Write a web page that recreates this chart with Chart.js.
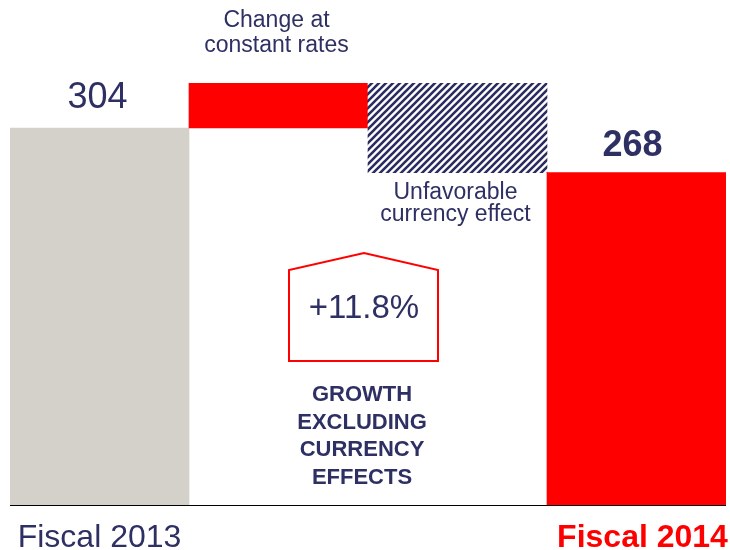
<!DOCTYPE html>
<html>
<head>
<meta charset="utf-8">
<script src="https://cdn.jsdelivr.net/npm/chart.js@4/dist/chart.umd.min.js"></script>
<style>
  html, body { margin: 0; padding: 0; background: #fff; }
  #wrap { position: relative; width: 730px; height: 550px; }
</style>
</head>
<body>
<div id="wrap"><canvas id="bridge"></canvas></div>
<script>
// Sales bridge, fiscal 2013 -> fiscal 2014
var steps = ['Fiscal 2013', 'Change at constant rates', 'Unfavorable currency effect', 'Fiscal 2014'];
var startValue = 304;
var changeAtConstantRates = 36;
var currencyEffect = -72;
var endValue = 268;

var NAVY = '#2e3063';
var RED = '#ff0000';
var GREY = '#d4d1cb';
var FONT = "'Liberation Sans', Arial, sans-serif";

// floating bars: [from, to]
var afterChange = startValue + changeAtConstantRates;
var floating = [
    [0, startValue],
    [startValue, afterChange],
    [afterChange, afterChange + currencyEffect],
    [0, endValue]
];

// diagonal navy hatch for the currency step
function hatch() {
    var s = 7;
    var c = document.createElement('canvas');
    c.width = s; c.height = s;
    var g = c.getContext('2d');
    g.fillStyle = '#fff';
    g.fillRect(0, 0, s, s);
    g.strokeStyle = '#2b2d62';
    g.lineWidth = 2.6;
    g.beginPath();
    g.moveTo(0, s); g.lineTo(s, 0);
    g.moveTo(-s / 2, s / 2); g.lineTo(s / 2, -s / 2);
    g.moveTo(s / 2, s * 1.5); g.lineTo(s * 1.5, s / 2);
    g.stroke();
    return g.createPattern(c, 'repeat');
}

var pct = changeAtConstantRates / startValue * 100;
var growthLabel = '+' + pct.toFixed(1) + '%';

var labelsPlugin = {
    id: 'bridgeLabels',
    afterDatasetsDraw: function (chart) {
        var ctx = chart.ctx;
        var y = chart.scales.y;
        var area = chart.chartArea;
        var bars = chart.getDatasetMeta(0).data;
        ctx.save();
        ctx.textAlign = 'center';
        ctx.textBaseline = 'alphabetic';

        // baseline
        ctx.strokeStyle = '#000';
        ctx.lineWidth = 1;
        ctx.beginPath();
        ctx.moveTo(area.left, Math.round(y.getPixelForValue(0)) + 0.5);
        ctx.lineTo(area.right, Math.round(y.getPixelForValue(0)) + 0.5);
        ctx.stroke();

        ctx.fillStyle = NAVY;
        ctx.font = '36px ' + FONT;
        ctx.fillText(String(startValue), bars[0].x - 2, y.getPixelForValue(startValue) - 20);

        ctx.font = 'bold 36px ' + FONT;
        ctx.fillText(String(endValue), bars[3].x - 4, y.getPixelForValue(endValue) - 17);

        ctx.font = '23px ' + FONT;
        var topChange = y.getPixelForValue(afterChange);
        ctx.fillText('Change at', bars[1].x - 2, topChange - 56);
        ctx.fillText('constant rates', bars[1].x - 2, topChange - 31);

        var bottomCurrency = y.getPixelForValue(afterChange + currencyEffect);
        ctx.fillText('Unfavorable', bars[2].x - 2, bottomCurrency + 26);
        ctx.fillText('currency effect', bars[2].x - 2, bottomCurrency + 48);

        // growth call-out between the two step bars
        var cx = (bars[1].x + bars[2].x) / 2 - 4;
        ctx.strokeStyle = RED;
        ctx.lineWidth = 2;
        ctx.beginPath();
        ctx.moveTo(cx - 75, 361);
        ctx.lineTo(cx - 75, 270);
        ctx.lineTo(cx, 253);
        ctx.lineTo(cx + 74, 270);
        ctx.lineTo(cx + 74, 361);
        ctx.closePath();
        ctx.stroke();

        ctx.fillStyle = NAVY;
        ctx.font = '33px ' + FONT;
        ctx.fillText(growthLabel, cx, 318);

        ctx.font = 'bold 22px ' + FONT;
        var lines = ['GROWTH', 'EXCLUDING', 'CURRENCY', 'EFFECTS'];
        lines.forEach(function (t, i) {
            ctx.fillText(t, cx - 2, 401 + i * 27.7);
        });

        // category captions under the axis
        ctx.font = '32px ' + FONT;
        ctx.fillText(steps[0], bars[0].x, area.bottom + 42);
        ctx.fillStyle = RED;
        ctx.font = 'bold 32px ' + FONT;
        ctx.fillText(steps[3], bars[3].x + 6, area.bottom + 42);
        ctx.restore();
    }
};

new Chart(document.getElementById('bridge'), {
    type: 'bar',
    data: {
        labels: steps,
        datasets: [{
            data: floating,
            backgroundColor: [GREY, RED, hatch(), RED],
            borderWidth: 0,
            borderSkipped: false,
            categoryPercentage: 1,
            barPercentage: 1
        }]
    },
    options: {
        responsive: true,
        maintainAspectRatio: false,
        animation: false,
        layout: { padding: { left: 10, right: 4, top: 9, bottom: 45 } },
        plugins: {
            legend: { display: false },
            tooltip: { enabled: false }
        },
        scales: {
            x: { display: false },
            y: { display: false, min: 0, max: 400 }
        }
    },
    plugins: [labelsPlugin]
});
</script>
</body>
</html>
